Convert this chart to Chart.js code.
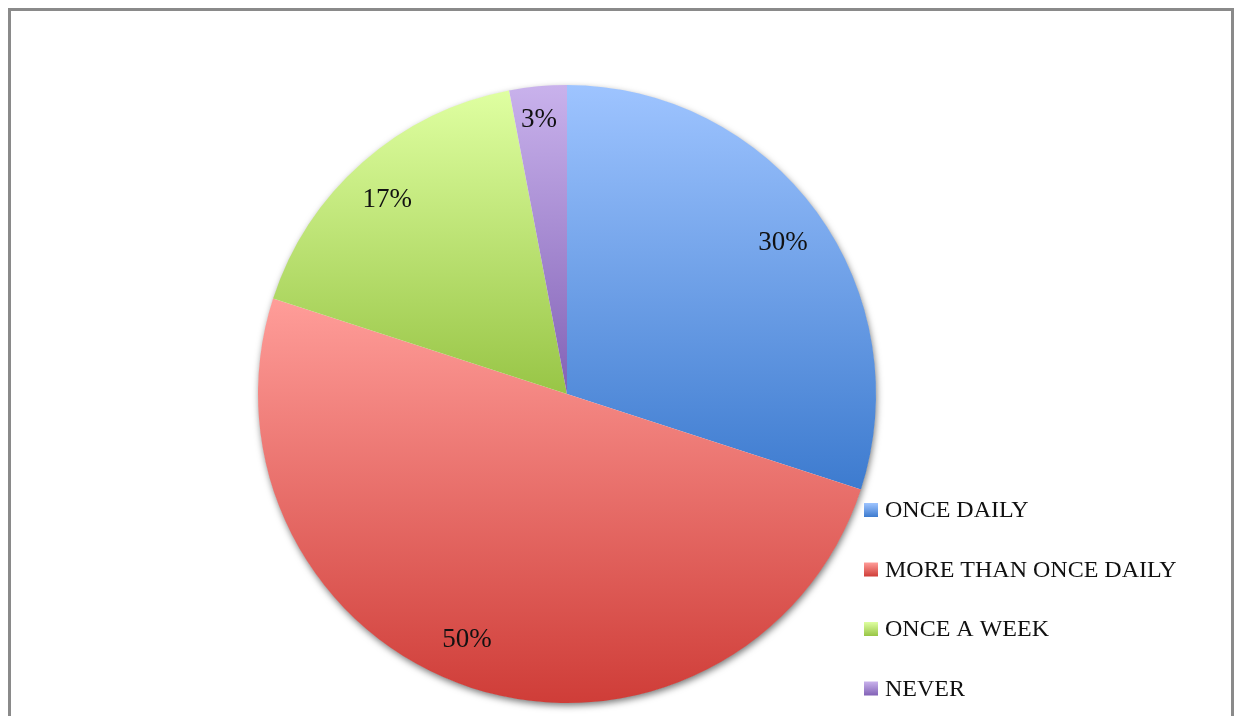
<!DOCTYPE html>
<html>
<head>
<meta charset="utf-8">
<script src="https://cdn.jsdelivr.net/npm/chart.js@4"></script>
<style>
  html, body { margin: 0; padding: 0; background: #fff; }
  #wrap { position: absolute; left: 0; top: 0; width: 1235px; height: 716px; overflow: hidden; }
  #frame { position: absolute; left: 8px; top: 8px; width: 1226px; height: 720px;
           border: 3px solid #8a8a8a; border-bottom: none; box-sizing: border-box; }
</style>
</head>
<body>
<div id="wrap">
  <canvas id="c" width="1235" height="716"></canvas>
  <div id="frame"></div>
</div>
<script>
// Survey answers and their share of respondents (%)
const categories = ['ONCE DAILY', 'MORE THAN ONCE DAILY', 'ONCE A WEEK', 'NEVER'];
const shares = [30, 50, 17, 3];
// Light (top) and dark (bottom) shade of each slice
const lightColors = ['#9ec4ff', '#ff9d99', '#dfffa1', '#c9b2ec'];
const darkColors  = ['#3d7bcf', '#cf3d38', '#98c546', '#8262b6'];

const SERIF = '"Liberation Serif", "DejaVu Serif", serif';

// Small per-slice tweaks (px) for where the percentage labels sit
const labelNudge = [[1, 5], [-18, -7], [-4, 5], [-2, 1]];

// Vertical bounding span of an arc segment
function arcSpan(a) {
  const ys = [a.y];
  const pts = [a.startAngle, a.endAngle];
  for (let k = -4; k <= 8; k++) {
    const t = k * Math.PI / 2;
    if (t > a.startAngle && t < a.endAngle) pts.push(t);
  }
  pts.forEach(t => ys.push(a.y + Math.sin(t) * a.outerRadius));
  return [Math.min(...ys), Math.max(...ys)];
}

const sliceStyle = {
  id: 'sliceStyle',
  beforeDatasetsDraw(chart) {
    const ctx = chart.ctx;
    const arcs = chart.getDatasetMeta(0).data;
    // soft drop shadow under the whole pie
    const a0 = arcs[0];
    ctx.save();
    ctx.shadowColor = 'rgba(0,0,0,0.55)';
    ctx.shadowBlur = 7;
    ctx.shadowOffsetX = 1;
    ctx.shadowOffsetY = 3;
    ctx.fillStyle = '#ffffff';
    ctx.beginPath();
    ctx.arc(a0.x, a0.y, a0.outerRadius - 0.5, 0, Math.PI * 2);
    ctx.fill();
    ctx.restore();
    // vertical gradient fitted to each slice
    arcs.forEach((a, i) => {
      const [y0, y1] = arcSpan(a);
      const g = ctx.createLinearGradient(0, y0, 0, y1);
      g.addColorStop(0, lightColors[i]);
      g.addColorStop(1, darkColors[i]);
      a.options.backgroundColor = g;
    });
  },
  afterDatasetsDraw(chart) {
    const ctx = chart.ctx;
    const arcs = chart.getDatasetMeta(0).data;
    const vals = chart.data.datasets[0].data;
    ctx.save();
    ctx.fillStyle = '#111';
    ctx.textAlign = 'center';
    ctx.textBaseline = 'middle';
    ctx.font = '27px ' + SERIF;
    arcs.forEach((a, i) => {
      const mid = (a.startAngle + a.endAngle) / 2;
      const f = vals[i] < 5 ? 0.895 : 0.86;
      const x = a.x + Math.cos(mid) * a.outerRadius * f + labelNudge[i][0];
      const y = a.y + Math.sin(mid) * a.outerRadius * f + labelNudge[i][1];
      ctx.fillText(vals[i] + '%', x, y);
    });
    // legend in the lower right corner
    const lx = 864, ly = 510, step = 59.5, box = 14;
    ctx.textAlign = 'left';
    ctx.font = '24px ' + SERIF;
    chart.data.labels.forEach((lab, i) => {
      const cy = ly + i * step;
      const g = ctx.createLinearGradient(0, cy - box / 2, 0, cy + box / 2);
      g.addColorStop(0, lightColors[i]);
      g.addColorStop(1, darkColors[i]);
      ctx.fillStyle = g;
      ctx.fillRect(lx, cy - box / 2, box, box);
      ctx.fillStyle = '#111';
      ctx.fillText(lab, lx + 21, cy + 1);
    });
    ctx.restore();
  }
};

new Chart(document.getElementById('c'), {
  type: 'pie',
  data: {
    labels: categories,
    datasets: [{
      data: shares,
      backgroundColor: lightColors,
      borderWidth: 0
    }]
  },
  options: {
    responsive: false,
    animation: false,
    layout: { padding: { left: 258, right: 359, top: 85, bottom: 13 } },
    plugins: {
      legend: { display: false },
      tooltip: { enabled: false }
    }
  },
  plugins: [sliceStyle]
});
</script>
</body>
</html>
